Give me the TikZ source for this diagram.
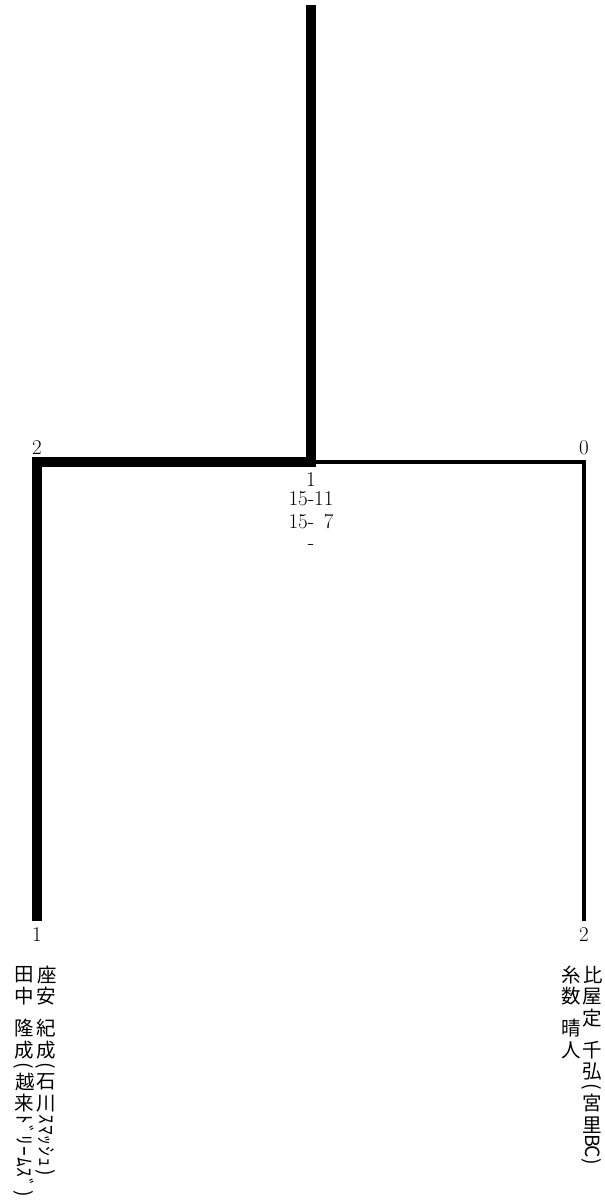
\documentclass[tikz,border=0pt]{standalone}
\usepackage{fontspec}
\newfontfamily\cjkfont{Noto Sans CJK JP}
\usetikzlibrary{positioning}
\makeatletter
\newlength\cell \setlength\cell{21.4pt}
% full-width characters stand upright, one cell each
\newcommand{\tate}[1]{\@tfor\ch:=#1\do{\makebox[\cell]{\rotatebox[origin=c]{90}{\ch}}}}
% half-width characters lie on their side, half a cell each
\newcommand{\han}[1]{\@tfor\ch:=#1\do{\makebox[.5\cell]{\ch}}}
\newcommand{\gap}{\hspace{.5\cell}}
\makeatother

\begin{document}
\begin{tikzpicture}[x=1pt, y=-1pt,
    winline/.style={line width=9.5pt, line join=miter},
    loseline/.style={line width=3.5pt, line join=miter},
    score/.style={inner sep=0pt, font=\fontsize{21}{23}\selectfont},
    player/.style={rotate=-90, anchor=west, inner sep=0pt,
      font=\cjkfont\fontsize{19.5}{22}\selectfont}]
    \useasboundingbox (0,0) rectangle (605,1203);

    % bracket
    \coordinate (top) at (311,5);
    \coordinate (junc) at (311,462);
    \coordinate (left) at (37,921);
    \coordinate (right) at (584,921);
    \draw[loseline] (junc) -| (right);
    \draw[winline] (left) |- (junc) -- (top);

    % scores
    \node[score, above=7pt of left |- junc] (lsets) {2};
    \node[score, above=7pt of right |- junc] (rsets) {0};
    \node[score] (game) at (311,479.5) {1};
    \node[score] (set1) at (311,499) {15-11};
    \node[score] (set2) at (311,522) {15-\phantom{1}7};
    \node[score] (set3) at (311,547) {-};
    \node[score, below=6pt of left] (lseed) {1};
    \node[score, below=6pt of right] (rseed) {2};

    % players
    \node[player] (lname1) at (46,964) {\tate{座安}\gap\tate{紀成}\han{(}\tate{石川}\han{ｽﾏｯｼｭ)}};
    \node[player] (lname2) at (24,964) {\tate{田中}\gap\tate{隆成}\han{(}\tate{越来}\han{ﾄﾞﾘｰﾑｽﾞ)}};
    \node[player] (rname1) at (592,964) {\tate{比屋定}\gap\tate{千弘}\han{(}\tate{宮里}\han{BC)}};
    \node[player] (rname2) at (571,964) {\tate{糸数}\gap\tate{晴人}};
\end{tikzpicture}
\end{document}
